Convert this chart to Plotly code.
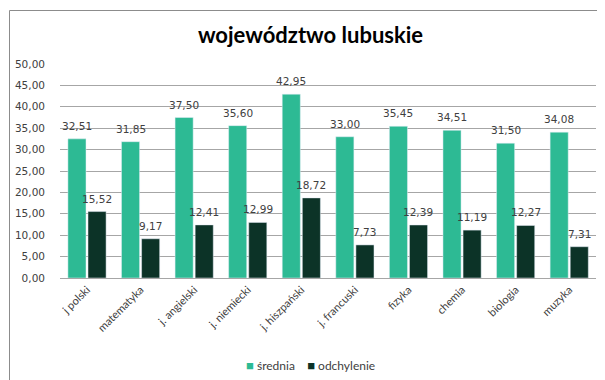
import plotly.graph_objects as go

categories = ["j polski", "matematyka", "j. angielski", "j. niemiecki", "j. hiszpański",
              "j. francuski", "fizyka", "chemia", "biologia", "muzyka"]
srednia = [32.51, 31.85, 37.50, 35.60, 42.95, 33.00, 35.45, 34.51, 31.50, 34.08]
odchylenie = [15.52, 9.17, 12.41, 12.99, 18.72, 7.73, 12.39, 11.19, 12.27, 7.31]
y_ticks = [0, 5, 10, 15, 20, 25, 30, 35, 40, 45, 50]
series_names = ["średnia", "odchylenie"]

teal = "#2DBA94"
dark = "#0C3327"
colors = [teal, dark]
label_font = dict(family="DejaVu Sans", size=10.5, color="#404040")

fig = go.Figure()
fig.add_bar(x=categories, y=srednia, name=series_names[0], marker_color=teal)
fig.add_bar(x=categories, y=odchylenie, name=series_names[1], marker_color=dark)

annotations = []
for series, shift in ((srednia, -10), (odchylenie, 10)):
    for cat, val in zip(categories, series):
        annotations.append(dict(x=cat, y=val, xref="x", yref="y",
                                text=f"{val:.2f}".replace(".", ","),
                                showarrow=False, xanchor="center", yanchor="bottom",
                                xshift=shift, yshift=5, font=label_font))

L, R, T, B = 52, 17, 56, 110
W, H = 605, 380
pw, ph = W - L - R, H - T - B

legend_text = "&nbsp;&nbsp;&nbsp;&nbsp;".join(
    f"<span style='color:{c};font-size:13px'>■</span>&nbsp;{n}" for c, n in zip(colors, series_names))
annotations.append(dict(x=(302 - L) / pw, y=(H - B - 357) / ph, xref="paper", yref="paper",
                        text=legend_text, showarrow=False, xanchor="center", yanchor="middle",
                        font=dict(family="Lato", size=12, color="#404040")))

fig.update_layout(
    width=W, height=H,
    margin=dict(l=L, r=R, t=T, b=B, pad=0, autoexpand=False),
    separators=",.",
    plot_bgcolor="white", paper_bgcolor="white",
    barmode="group", bargap=0.25, bargroupgap=0.1,
    showlegend=False,
    title=dict(text="<b>województwo lubuskie</b>", x=0.5, xanchor="center",
               y=1 - 27 / H, yanchor="middle",
               font=dict(family="Lato", size=22, color="#000000")),
    xaxis=dict(tickangle=-45, tickfont=dict(family="Lato", size=11, color="#404040"),
               showline=True, linecolor="#A6A6A6", linewidth=1, ticks="",
               automargin=False),
    yaxis=dict(range=[0, 50], tickvals=y_ticks, tickformat=".2f",
               tickfont=label_font, gridcolor="#A6A6A6", gridwidth=1,
               zeroline=False, showline=False, ticks="", ticklabelstandoff=14,
               automargin=False),
    annotations=annotations,
    shapes=[dict(type="rect", xref="paper", yref="paper",
                 x0=(1.5 - L) / pw, x1=(W - 2.5 - L) / pw,
                 y0=(H - B - (H - 2.5)) / ph, y1=(H - B - 2.5) / ph,
                 line=dict(color="#8C8C8C", width=1), fillcolor="rgba(0,0,0,0)")],
)

fig.write_html("out.html")
